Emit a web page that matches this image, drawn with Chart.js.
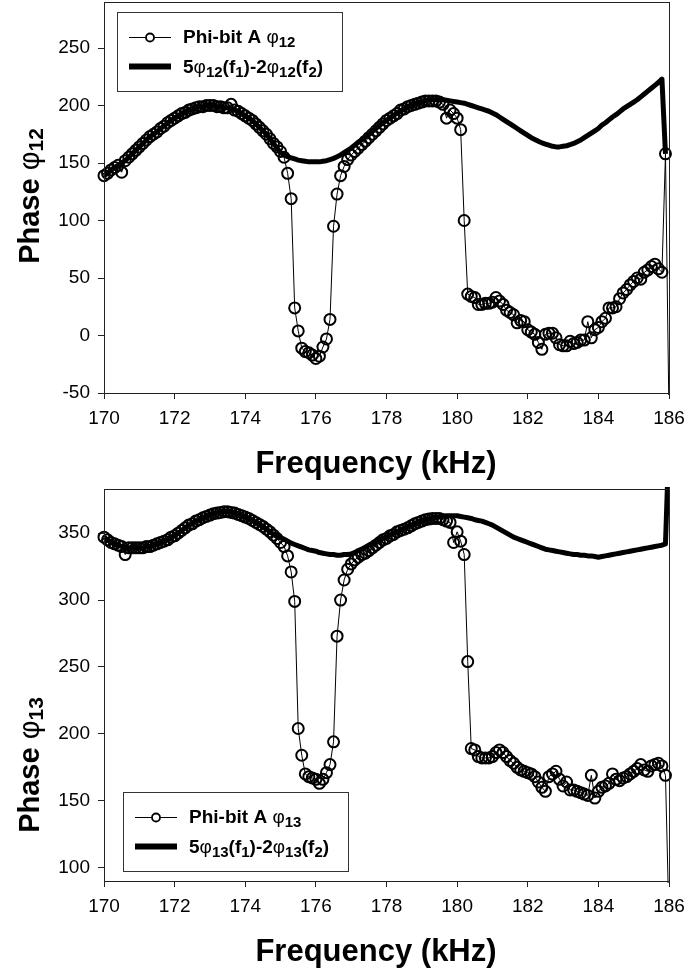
<!DOCTYPE html>
<html>
<head>
<meta charset="utf-8">
<script src="https://cdn.jsdelivr.net/npm/chart.js@4.4.1/dist/chart.umd.min.js"></script>
<style>
  html, body { margin: 0; padding: 0; background: #fff; }
  #wrap { position: relative; width: 685px; height: 968px; }
  .panel { position: absolute; left: 0; width: 685px; height: 484px; }
</style>
</head>
<body>
<div id="wrap">
  <div class="panel" style="top:0"><canvas id="c12" width="685" height="484"></canvas></div>
  <div class="panel" style="top:484px"><canvas id="c13" width="685" height="484"></canvas></div>
</div>
<script>
// frequency samples (kHz)
const freq = [
  170.0,170.1,170.2,170.3,170.4,170.5,170.6,170.7,170.8,170.9,
  171.0,171.1,171.2,171.3,171.4,171.5,171.6,171.7,171.8,171.9,
  172.0,172.1,172.2,172.3,172.4,172.5,172.6,172.7,172.8,172.9,
  173.0,173.1,173.2,173.3,173.4,173.5,173.6,173.7,173.8,173.9,
  174.0,174.1,174.2,174.3,174.4,174.5,174.6,174.7,174.8,174.9,
  175.0,175.1,175.2,175.3,175.4,175.5,175.6,175.7,175.8,175.9,
  176.0,176.1,176.2,176.3,176.4,176.5,176.6,176.7,176.8,176.9,
  177.0,177.1,177.2,177.3,177.4,177.5,177.6,177.7,177.8,177.9,
  178.0,178.1,178.2,178.3,178.4,178.5,178.6,178.7,178.8,178.9,
  179.0,179.1,179.2,179.3,179.4,179.5,179.6,179.7,179.8,179.9,
  180.0,180.1,180.2,180.3,180.4,180.5,180.6,180.7,180.8,180.9,
  181.0,181.1,181.2,181.3,181.4,181.5,181.6,181.7,181.8,181.9,
  182.0,182.1,182.2,182.3,182.4,182.5,182.6,182.7,182.8,182.9,
  183.0,183.1,183.2,183.3,183.4,183.5,183.6,183.7,183.8,183.9,
  184.0,184.1,184.2,184.3,184.4,184.5,184.6,184.7,184.8,184.9,
  185.0,185.1,185.2,185.3,185.4,185.5,185.6,185.7,185.8,185.9,
  186.0
];

// Phi-bit A phi12 (measured)
const phi12Data = [
  139,141,144,146,148,142,152,155,158,161,
  164,167,170,173,175,177,180,182,185,187,
  189,191,193,194,196,197,198,199,199,200,
  200,200,199,199,198,198,201,196,195,193,
  191,189,187,184,181,178,175,171,167,164,
  160,155,141,119,24,4,-11,-14,-15,-17,
  -20,-18,-10,-3,14,95,123,139,147,153,
  157,160,163,166,169,172,175,178,181,184,
  187,189,191,193,196,197,199,200,201,202,
  203,204,204,204,204,203,201,189,196,193,
  189,179,100,36,34,33,27,27,28,28,
  29,33,30,27,22,20,18,11,13,12,
  5,3,1,-6,-12,1,2,2,-2,-8,
  -9,-9,-5,-7,-6,-4,-4,12,-2,5,
  7,12,15,24,24,25,32,37,40,44,
  47,50,49,55,57,60,62,58,55,158,
  -70
];

// 5phi12(f1)-2phi12(f2)
const phi12Model = [
  139,141,144,146,148,150,152,155,158,161,
  164,167,170,173,175,177,180,182,185,187,
  189,191,193,194,196,197,198,199,199,200,
  200,200,199,199,198,198,197,196,195,193,
  191,189,187,184,181,178,175,171,167,163,
  159,157,155.5,154.5,153.5,152.5,152,151.5,151,151,
  151,151,151.5,152,153,154,155.5,157,159,161,
  163,165.5,168,170,172.5,175,177.5,180,182.5,185,
  187,189.5,191.5,193.5,195.5,197,198.5,200,201,202,
  203,204,204.5,205,205,205,205,204.5,204,203.5,
  203,202.5,202,201,200,199,198,197,196,195,
  193.5,192,190,188,186,184,182,180,178,176,
  174,172,170.5,169,167.5,166.5,165.5,164.5,164,164,
  164.5,165,166,167,168.5,170,172,174,176,178,
  180,183,185,187.5,190,192,194.5,197,199,201,
  203,205,207.5,210,212.5,215,217.5,220,223,158,
  null
];

// Phi-bit A phi13 (measured)
const phi13Data = [
  347,345,343,342,341,340,334,339,339,339,
  339,339,340,340,341,342,343,344,345,347,
  348,350,352,354,356,357,359,360,361.5,362.5,
  363.5,364.5,365,365.5,366,366,365.5,365,364,363,
  362,361,359.5,358,356.5,355,353,351,348.5,346,
  343,340,333,321,299,204,184,170,168,167,
  166,163,166,171,177,194,273,300,315,323,
  327,330,332,334,335,337,339,341,343,345,
  346,348,349,351,352,353,354,355.5,357,358,
  359,360,360.5,361,361,361,360,359,358,343,
  351,344,334,254,189,188,183,182,182,182,
  183,186,188,186,183,180,178,175,173,172,
  171,170,168,164,160,157,168,170,172,166,
  161,164,158,158,157,156,155,154,169,152,
  157,160,161,163,170,166,165,167,168,170,
  172,174,177,173,172,176,177,178,176,169,
  60
];

// 5phi13(f1)-2phi13(f2)
const phi13Model = [
  347,345,343,342,341,340,339.5,339,339,339,
  339,339,340,340,341,342,343,344,345,347,
  348,350,352,354,356,357,359,360,361.5,362.5,
  363.5,364.5,365,365.5,366,366,365.5,365,364,363,
  362,361,359.5,358,356.5,355,353,351,349,347.5,
  346.5,345.5,344,342.5,341.5,340.5,339.5,338.5,337.5,337,
  336.5,335.5,335,334.5,334,334,333.5,333.5,334,334,
  334.5,335.5,337,338,339.5,341,342,343.5,345,346,
  347,348.5,350,351,352.5,353.5,355,356,357,358,
  359,360,360.5,361,361.5,362,362.5,363,363,363,
  363,362.5,362,361.5,361,360,359.5,359,358,357,
  356,354.5,353,351.5,350,348.5,347,346,345,344,
  343,342,341,340,339,338,337.5,337,336.5,336,
  335.5,335,334.5,334,334,333.5,333.5,333,333,332.5,
  332,332.5,333,333.5,334,334.5,335,335.5,336,336.5,
  337,337.5,338,338.5,339,339.5,340,340.5,341,342,
  420
];

const xTicks = [170, 172, 174, 176, 178, 180, 182, 184, 186];
const yTicks12 = [-50, 0, 50, 100, 150, 200, 250];
const yTicks13 = [100, 150, 200, 250, 300, 350];

const FAM = '"Liberation Sans", Arial, Helvetica, sans-serif';
const B = s => `bold ${s}px ${FAM}`;
const R = s => `${s}px ${FAM}`;

function pts(vals) {
  return freq.map((f, i) => ({ x: f, y: vals[i] }));
}

function richWidth(ctx, parts) {
  let w = 0;
  for (const p of parts) { ctx.font = p.f; w += ctx.measureText(p.t).width; }
  return w;
}
function richDraw(ctx, parts, x, y) {
  for (const p of parts) {
    ctx.font = p.f;
    ctx.fillText(p.t, x, y + (p.dy || 0));
    x += ctx.measureText(p.t).width;
  }
}

function legendRows(idx) {
  return [
    [{ t: 'Phi-bit A ', f: B(19) }, { t: 'φ', f: R(19) }, { t: idx, f: B(15), dy: 4 }],
    [{ t: '5', f: B(19) }, { t: 'φ', f: R(19) }, { t: idx, f: B(15), dy: 4 },
     { t: '(f', f: B(19) }, { t: '1', f: B(15), dy: 4 }, { t: ')-2', f: B(19) },
     { t: 'φ', f: R(19) }, { t: idx, f: B(15), dy: 4 },
     { t: '(f', f: B(19) }, { t: '2', f: B(15), dy: 4 }, { t: ')', f: B(19) }]
  ];
}

// frame, axis titles and the boxed legend
function decor(o) {
  return {
    id: 'decor',
    afterDraw(chart) {
      const { ctx, chartArea: a } = chart;
      ctx.save();
      ctx.strokeStyle = '#222';
      ctx.lineWidth = 1;
      ctx.strokeRect(Math.round(a.left) + 0.5, Math.round(a.top) + 0.5,
        Math.round(a.right - a.left), Math.round(a.bottom - a.top));

      ctx.fillStyle = '#000';
      ctx.textBaseline = 'alphabetic';
      ctx.textAlign = 'left';

      // x title
      const xt = [{ t: 'Frequency (kHz)', f: B(31) }];
      richDraw(ctx, xt, o.xTitleX - richWidth(ctx, xt) / 2, o.xTitleY);

      // y title (rotated)
      const yt = [{ t: 'Phase ', f: B(29) }, { t: 'φ', f: R(29) }, { t: o.idx, f: B(21), dy: 4 }];
      ctx.save();
      ctx.translate(o.yTitleX, o.yTitleY);
      ctx.rotate(-Math.PI / 2);
      richDraw(ctx, yt, -richWidth(ctx, yt) / 2, 0);
      ctx.restore();

      // legend
      const L = o.legend;
      ctx.fillStyle = '#fff';
      ctx.fillRect(L.x, L.y, L.w, L.h);
      ctx.strokeStyle = '#333';
      ctx.strokeRect(L.x + 0.5, L.y + 0.5, L.w, L.h);
      const rows = legendRows(o.idx);
      const y1 = L.y + 25.5, y2 = L.y + 54.5;
      ctx.strokeStyle = '#000';
      ctx.lineWidth = 1;
      ctx.beginPath(); ctx.moveTo(L.x + 12, y1); ctx.lineTo(L.x + 54, y1); ctx.stroke();
      ctx.lineWidth = 1.8;
      ctx.fillStyle = '#fff';
      ctx.beginPath(); ctx.arc(L.x + 33, y1, 4, 0, Math.PI * 2); ctx.fill(); ctx.stroke();
      ctx.lineWidth = 6;
      ctx.beginPath(); ctx.moveTo(L.x + 12, y2); ctx.lineTo(L.x + 54, y2); ctx.stroke();
      ctx.fillStyle = '#000';
      richDraw(ctx, rows[0], L.x + 66, y1 + 5);
      richDraw(ctx, rows[1], L.x + 66, y2 + 6);
      ctx.restore();
    }
  };
}

function makeChart(id, o) {
  const axisCommon = {
    grid: { display: true, drawOnChartArea: false, drawTicks: true, tickLength: 6, color: '#222', lineWidth: 1 },
    border: { display: true, color: '#222', width: 1 }
  };
  return new Chart(document.getElementById(id), {
    type: 'line',
    data: {
      datasets: [
        {
          label: 'Phi-bit A',
          data: pts(o.data),
          borderColor: '#000',
          borderWidth: 1,
          pointRadius: 5.5,
          pointBorderWidth: 2,
          pointBorderColor: '#000',
          pointBackgroundColor: 'rgba(0,0,0,0)',
          tension: 0,
          clip: { left: 8, right: 8, top: 2, bottom: 2 }
        },
        {
          label: 'model',
          data: pts(o.model),
          borderColor: '#000',
          borderWidth: 5,
          pointRadius: 0,
          tension: 0,
          borderJoinStyle: 'round',
          clip: 2
        }
      ]
    },
    options: {
      responsive: false,
      animation: false,
      devicePixelRatio: 1,
      layout: { autoPadding: false, padding: { left: 0, right: 16, top: o.padTop, bottom: 0 } },
      plugins: { legend: { display: false }, tooltip: { enabled: false } },
      scales: {
        x: {
          type: 'linear', min: 170, max: 186,
          afterBuildTicks: s => { s.ticks = xTicks.map(v => ({ value: v })); },
          afterFit: s => { s.height = o.xAxisH; s.paddingLeft = 0; s.paddingRight = 0; },
          ticks: { font: { family: FAM, size: 19 }, color: '#000', padding: 8, maxRotation: 0, autoSkip: false },
          ...axisCommon
        },
        y: {
          type: 'linear', min: o.yMin, max: o.yMax,
          afterBuildTicks: s => { s.ticks = o.yTicks.map(v => ({ value: v })); },
          afterFit: s => { s.width = 104; s.paddingTop = 0; s.paddingBottom = 0; },
          ticks: { font: { family: FAM, size: 19 }, color: '#000', padding: 8 },
          ...axisCommon
        }
      }
    },
    plugins: [decor(o)]
  });
}

makeChart('c12', {
  idx: '12', data: phi12Data, model: phi12Model,
  yMin: -50, yMax: 290, yTicks: yTicks12,
  padTop: 2, xAxisH: 91,
  xTitleX: 376, xTitleY: 473,
  yTitleX: 39, yTitleY: 196,
  legend: { x: 117, y: 12, w: 225, h: 79 }
});

makeChart('c13', {
  idx: '13', data: phi13Data, model: phi13Model,
  yMin: 90, yMax: 383, yTicks: yTicks13,
  padTop: 5, xAxisH: 87,
  xTitleX: 376, xTitleY: 477,
  yTitleX: 39, yTitleY: 281,
  legend: { x: 123, y: 308, w: 225, h: 79 }
});
</script>
</body>
</html>
